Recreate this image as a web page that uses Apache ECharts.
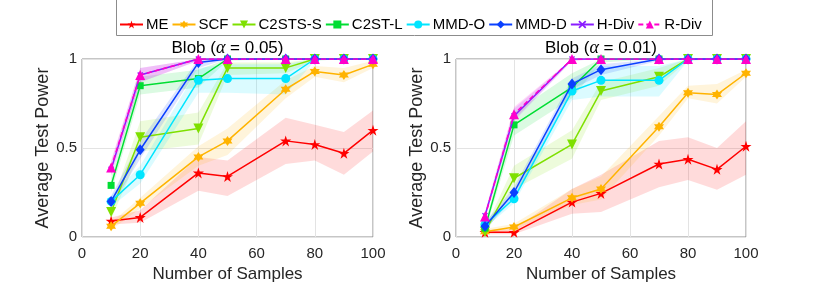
<!DOCTYPE html>
<html><head><meta charset="utf-8">
<script src="https://cdn.jsdelivr.net/npm/echarts@6/dist/echarts.min.js"></script>
<style>html,body{margin:0;padding:0;background:#fff}#c{width:830px;height:297px}</style>
</head><body><div id="c"></div>
<script>
// ---------------- data ----------------
const samples = [10, 20, 40, 50, 70, 80, 90, 100];
const methods = ['ME', 'SCF', 'C2STS-S', 'C2ST-L', 'MMD-O', 'MMD-D', 'H-Div', 'R-Div'];
const xTicks = [0, 20, 40, 60, 80, 100];
const yTicks = [0, 0.5, 1];
const panelTitles = ['0.05', '0.01'];

// alpha = 0.05 (left)
const ME_05      = [0.09, 0.11, 0.36, 0.34, 0.54, 0.52, 0.47, 0.60];
const ME_05_lo   = [0.07, 0.08, 0.26, 0.23, 0.41, 0.43, 0.35, 0.48];
const ME_05_hi   = [0.11, 0.15, 0.45, 0.43, 0.67, 0.63, 0.59, 0.71];
const SCF_05     = [0.06, 0.19, 0.45, 0.54, 0.83, 0.93, 0.91, 0.97];
const SCF_05_lo  = [0.04, 0.16, 0.40, 0.46, 0.78, 0.90, 0.87, 0.95];
const SCF_05_hi  = [0.08, 0.22, 0.51, 0.61, 0.88, 0.96, 0.95, 0.99];
const C2SS_05    = [0.14, 0.56, 0.61, 0.95, 0.95, 1, 1, 1];
const C2SS_05_lo = [0.10, 0.48, 0.52, 0.91, 0.92, 0.99, 1, 1];
const C2SS_05_hi = [0.18, 0.65, 0.70, 0.98, 0.98, 1, 1, 1];
const C2SL_05    = [0.29, 0.85, 0.89, 1, 1, 1, 1, 1];
const C2SL_05_lo = [0.25, 0.80, 0.84, 0.99, 1, 1, 1, 1];
const C2SL_05_hi = [0.33, 0.90, 0.94, 1, 1, 1, 1, 1];
const MMDO_05    = [0.20, 0.35, 0.88, 0.89, 0.89, 1, 1, 1];
const MMDO_05_lo = [0.17, 0.30, 0.81, 0.81, 0.80, 0.99, 1, 1];
const MMDO_05_hi = [0.23, 0.40, 0.95, 0.97, 0.97, 1, 1, 1];
const MMDD_05    = [0.20, 0.49, 0.98, 1, 1, 1, 1, 1];
const MMDD_05_lo = [0.17, 0.44, 0.95, 1, 1, 1, 1, 1];
const MMDD_05_hi = [0.23, 0.54, 1, 1, 1, 1, 1, 1];
const HDIV_05    = [0.38, 0.91, 1, 1, 1, 1, 1, 1];
const HDIV_05_lo = [0.34, 0.87, 0.99, 1, 1, 1, 1, 1];
const HDIV_05_hi = [0.42, 0.95, 1, 1, 1, 1, 1, 1];
const RDIV_05    = [0.39, 0.91, 1, 1, 1, 1, 1, 1];
const RDIV_05_lo = [0.35, 0.87, 0.99, 1, 1, 1, 1, 1];
const RDIV_05_hi = [0.43, 0.95, 1, 1, 1, 1, 1, 1];

// alpha = 0.01 (right)
const ME_01      = [0.026, 0.026, 0.196, 0.245, 0.41, 0.437, 0.38, 0.51];
const ME_01_lo   = [0.015, 0.015, 0.13, 0.14, 0.28, 0.32, 0.265, 0.35];
const ME_01_hi   = [0.04, 0.045, 0.27, 0.35, 0.54, 0.56, 0.50, 0.65];
const SCF_01     = [0.03, 0.056, 0.22, 0.27, 0.62, 0.81, 0.80, 0.92];
const SCF_01_lo  = [0.02, 0.04, 0.18, 0.21, 0.57, 0.78, 0.75, 0.90];
const SCF_01_hi  = [0.045, 0.075, 0.27, 0.34, 0.68, 0.85, 0.86, 0.94];
const C2SS_01    = [0.03, 0.33, 0.52, 0.82, 0.90, 1, 1, 1];
const C2SS_01_lo = [0.02, 0.27, 0.44, 0.77, 0.85, 0.99, 1, 1];
const C2SS_01_hi = [0.05, 0.40, 0.60, 0.87, 0.95, 1, 1, 1];
const C2SL_01    = [0.05, 0.63, 0.84, 1, 1, 1, 1, 1];
const C2SL_01_lo = [0.03, 0.57, 0.78, 0.98, 1, 1, 1, 1];
const C2SL_01_hi = [0.07, 0.70, 0.92, 1, 1, 1, 1, 1];
const MMDO_01    = [0.07, 0.215, 0.82, 0.88, 0.88, 1, 1, 1];
const MMDO_01_lo = [0.05, 0.19, 0.77, 0.79, 0.79, 0.99, 1, 1];
const MMDO_01_hi = [0.09, 0.24, 0.87, 0.96, 0.96, 1, 1, 1];
const MMDD_01    = [0.06, 0.25, 0.86, 0.94, 1, 1, 1, 1];
const MMDD_01_lo = [0.04, 0.22, 0.83, 0.91, 0.99, 1, 1, 1];
const MMDD_01_hi = [0.08, 0.28, 0.89, 0.97, 1, 1, 1, 1];
const HDIV_01    = [0.12, 0.68, 1, 1, 1, 1, 1, 1];
const HDIV_01_lo = [0.10, 0.65, 0.99, 1, 1, 1, 1, 1];
const HDIV_01_hi = [0.14, 0.72, 1, 1, 1, 1, 1, 1];
const RDIV_01    = [0.115, 0.69, 1, 1, 1, 1, 1, 1];
const RDIV_01_lo = [0.10, 0.66, 0.99, 1, 1, 1, 1, 1];
const RDIV_01_hi = [0.14, 0.73, 1, 1, 1, 1, 1, 1];

// ---------------- styles ----------------
const PENTA = 'path://M50 0 L61.23 34.55 L97.55 34.55 L68.17 55.9 L79.39 90.45 L50 69.1 L20.61 90.45 L31.83 55.9 L2.45 34.55 L38.77 34.55 Z';
const HEXA = 'path://M50 0 L64.43 25 L93.3 25 L78.87 50 L93.3 75 L64.43 75 L50 100 L35.57 75 L6.7 75 L21.13 50 L6.7 25 L35.57 25 Z';
const XMARK = 'path://M0 15 L15 0 L50 35 L85 0 L100 15 L65 50 L100 85 L85 100 L50 65 L15 100 L0 85 L35 50 Z';

const styles = {
  'ME':      {color: '#ff0000', symbol: PENTA, size: 11, rotate: 0, dash: 'solid'},
  'SCF':     {color: '#ffb300', symbol: HEXA, size: 10, rotate: 0, dash: 'solid'},
  'C2STS-S': {color: '#7ee000', symbol: 'triangle', size: 10, rotate: 180, dash: 'solid'},
  'C2ST-L':  {color: '#00dd33', symbol: 'rect', size: 7, rotate: 0, dash: 'solid'},
  'MMD-O':   {color: '#00e5ff', symbol: 'circle', size: 9, rotate: 0, dash: 'solid'},
  'MMD-D':   {color: '#0a40ff', symbol: 'diamond', size: [9, 11], rotate: 0, dash: 'solid'},
  'H-Div':   {color: '#8a1cff', symbol: XMARK, size: 6, rotate: 0, dash: 'solid'},
  'R-Div':   {color: '#ff00cc', symbol: 'triangle', size: 10, rotate: 0, dash: [5, 3]}
};

const panels = [
  {vals: [ME_05, SCF_05, C2SS_05, C2SL_05, MMDO_05, MMDD_05, HDIV_05, RDIV_05],
   lo:   [ME_05_lo, SCF_05_lo, C2SS_05_lo, C2SL_05_lo, MMDO_05_lo, MMDD_05_lo, HDIV_05_lo, RDIV_05_lo],
   hi:   [ME_05_hi, SCF_05_hi, C2SS_05_hi, C2SL_05_hi, MMDO_05_hi, MMDD_05_hi, HDIV_05_hi, RDIV_05_hi]},
  {vals: [ME_01, SCF_01, C2SS_01, C2SL_01, MMDO_01, MMDD_01, HDIV_01, RDIV_01],
   lo:   [ME_01_lo, SCF_01_lo, C2SS_01_lo, C2SL_01_lo, MMDO_01_lo, MMDD_01_lo, HDIV_01_lo, RDIV_01_lo],
   hi:   [ME_01_hi, SCF_01_hi, C2SS_01_hi, C2SL_01_hi, MMDO_01_hi, MMDD_01_hi, HDIV_01_hi, RDIV_01_hi]}
];

const FONT = '"Liberation Sans", Arial, Helvetica, sans-serif';
const grids = [
  {left: 82, top: 59, width: 291, height: 178},
  {left: 456, top: 59, width: 290, height: 178}
];

function hexA(hex, a) {
  const r = parseInt(hex.slice(1, 3), 16), g = parseInt(hex.slice(3, 5), 16), b = parseInt(hex.slice(5, 7), 16);
  return 'rgba(' + r + ',' + g + ',' + b + ',' + a + ')';
}

const series = [];
panels.forEach((p, gi) => {
  methods.forEach((m, mi) => {
    const st = styles[m];
    const lo = p.lo[mi], hi = p.hi[mi];
    series.push({
      type: 'custom', xAxisIndex: gi, yAxisIndex: gi, silent: true, z: 1,
      data: [[samples[0], lo[0]]],
      renderItem: function (params, api) {
        const pts = [];
        for (let i = 0; i < samples.length; i++) pts.push(api.coord([samples[i], hi[i]]));
        for (let i = samples.length - 1; i >= 0; i--) pts.push(api.coord([samples[i], lo[i]]));
        return {type: 'polygon', shape: {points: pts}, style: {fill: hexA(st.color, 0.14)}};
      }
    });
  });
  methods.forEach((m, mi) => {
    const st = styles[m];
    series.push({
      name: m, type: 'line', xAxisIndex: gi, yAxisIndex: gi, z: 3 + mi,
      data: samples.map((x, i) => [x, p.vals[mi][i]]),
      symbol: st.symbol, symbolSize: st.size, symbolRotate: st.rotate,
      showAllSymbol: true,
      lineStyle: {color: st.color, width: 1.5, type: st.dash},
      itemStyle: {color: st.color},
      emphasis: {disabled: true},
      animation: false
    });
  });
});

const xAxes = grids.map((g, i) => ({
  type: 'value', gridIndex: i, min: 0, max: 100, interval: 20,
  name: 'Number of Samples', nameLocation: 'middle', nameGap: 29,
  nameTextStyle: {fontFamily: FONT, fontSize: 17, color: '#262626'},
  axisLine: {show: false}, axisTick: {show: false},
  axisLabel: {fontFamily: FONT, fontSize: 15, color: '#262626', margin: 9},
  splitLine: {show: true, lineStyle: {color: '#e3e3e3', width: 1}}
}));
const yAxes = grids.map((g, i) => ({
  type: 'value', gridIndex: i, min: 0, max: 1, interval: 0.5,
  name: 'Average Test Power', nameLocation: 'middle', nameGap: 30,
  nameTextStyle: {fontFamily: FONT, fontSize: 18, color: '#262626'},
  axisLine: {show: false}, axisTick: {show: false},
  axisLabel: {fontFamily: FONT, fontSize: 15, color: '#262626', margin: 5,
    formatter: v => (yTicks.indexOf(v) >= 0 ? String(v) : '')},
  splitLine: {show: true, lineStyle: {color: '#e3e3e3', width: 1}}
}));

const titleGraphics = grids.map((g, i) => ({
  type: 'text', x: g.left + g.width / 2, y: 48, z: 100,
  style: {
    text: '{n|Blob (}{g|α}{n| = ' + panelTitles[i] + ')}',
    align: 'center', verticalAlign: 'middle',
    rich: {
      n: {fontFamily: FONT, fontSize: 17, fill: '#000', color: '#000'},
      g: {fontFamily: '"Liberation Serif", "DejaVu Serif", serif', fontStyle: 'italic', fontSize: 18, fill: '#000', color: '#000'}
    }
  }
}));

const chart = echarts.init(document.getElementById('c'), null, {renderer: 'canvas'});
chart.setOption({
  animation: false,
  backgroundColor: '#fff',
  grid: grids.map(g => Object.assign({show: true, borderColor: '#8c8c8c', borderWidth: 1, backgroundColor: 'transparent'}, g)),
  xAxis: xAxes,
  yAxis: yAxes,
  legend: {
    data: methods, left: 119, top: 17, padding: 0, itemGap: 3,
    itemWidth: 23, itemHeight: 10,
    textStyle: {fontFamily: FONT, fontSize: 15, color: '#000', padding: [0, 0, 0, -2]},
    selectedMode: false
  },
  graphic: [
    {type: 'rect', shape: {x: 116.5, y: -5, width: 596, height: 40.5}, style: {fill: 'none', stroke: '#8c8c8c', lineWidth: 1}, z: 50}
  ].concat(titleGraphics),
  series: series
});
</script></body></html>
